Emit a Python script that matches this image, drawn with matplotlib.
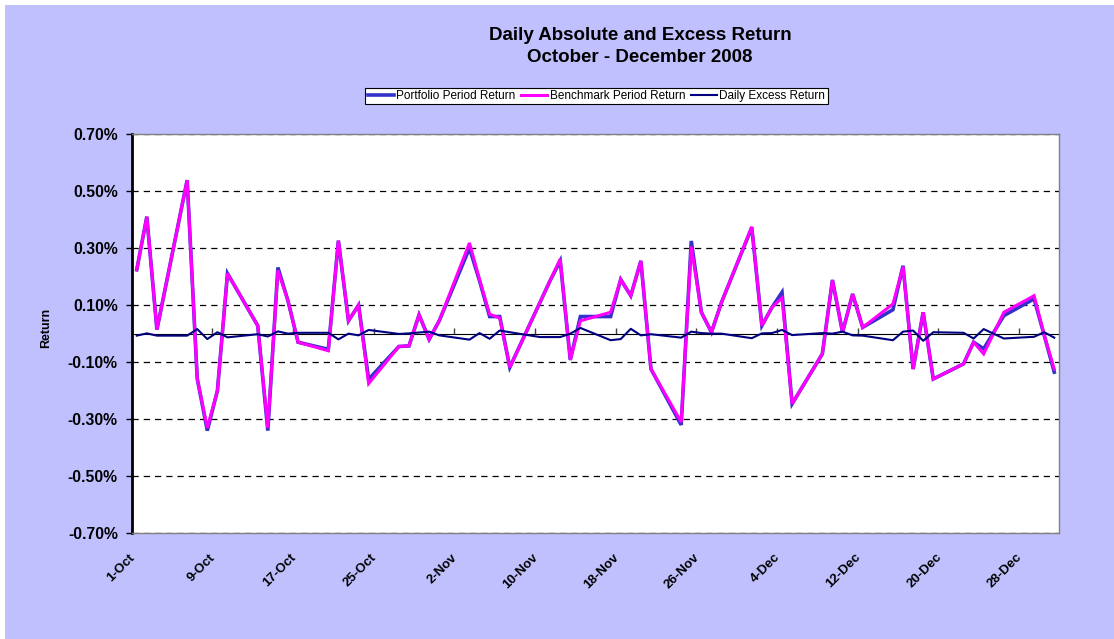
import numpy as np
import matplotlib
matplotlib.use("Agg")
import matplotlib.pyplot as plt
import matplotlib.transforms as mtransforms
from matplotlib.patches import Rectangle

# ---------------- data ----------------
dates = [
    "2008-10-01", "2008-10-02", "2008-10-03", "2008-10-06", "2008-10-07", "2008-10-08",
    "2008-10-09", "2008-10-10", "2008-10-13", "2008-10-14", "2008-10-15", "2008-10-16",
    "2008-10-17", "2008-10-20", "2008-10-21", "2008-10-22", "2008-10-23", "2008-10-24",
    "2008-10-27", "2008-10-28", "2008-10-29", "2008-10-30", "2008-10-31",
    "2008-11-03", "2008-11-04", "2008-11-05", "2008-11-06", "2008-11-07",
    "2008-11-10", "2008-11-11", "2008-11-12", "2008-11-13", "2008-11-14",
    "2008-11-17", "2008-11-18", "2008-11-19", "2008-11-20", "2008-11-21",
    "2008-11-24", "2008-11-25", "2008-11-26", "2008-11-27", "2008-11-28",
    "2008-12-01", "2008-12-02", "2008-12-03", "2008-12-04", "2008-12-05",
    "2008-12-08", "2008-12-09", "2008-12-10", "2008-12-11", "2008-12-12",
    "2008-12-15", "2008-12-16", "2008-12-17", "2008-12-18", "2008-12-19",
    "2008-12-22", "2008-12-23", "2008-12-24", "2008-12-26",
    "2008-12-29", "2008-12-30", "2008-12-31",
]

# returns in percent
portfolio = [
    0.224, 0.410, 0.014, 0.538, -0.158, -0.340,
    -0.200, 0.211, 0.028, -0.340, 0.232, 0.115,
    -0.030, -0.055, 0.326, 0.045, 0.100, -0.160,
    -0.045, -0.043, 0.066, -0.020, 0.045,
    0.300, 0.185, 0.060, 0.060, -0.118,
    0.110, 0.186, 0.255, -0.092, 0.060,
    0.060, 0.190, 0.133, 0.255, -0.124,
    -0.320, 0.325, 0.075, 0.005, 0.110,
    0.372, 0.028, 0.092, 0.145, -0.246,
    -0.071, 0.188, 0.005, 0.139, 0.022,
    0.084, 0.238, -0.124, 0.075, -0.159,
    -0.106, -0.030, -0.053, 0.063,
    0.122, -0.005, -0.135,
]

benchmark = [
    0.224, 0.410, 0.014, 0.538, -0.158, -0.330,
    -0.200, 0.211, 0.028, -0.330, 0.222, 0.115,
    -0.030, -0.060, 0.326, 0.045, 0.100, -0.175,
    -0.045, -0.043, 0.066, -0.020, 0.045,
    0.318, 0.190, 0.068, 0.055, -0.118,
    0.110, 0.186, 0.262, -0.092, 0.045,
    0.075, 0.190, 0.133, 0.255, -0.124,
    -0.310, 0.305, 0.075, 0.005, 0.110,
    0.375, 0.028, 0.092, 0.125, -0.246,
    -0.071, 0.188, 0.005, 0.139, 0.022,
    0.104, 0.235, -0.124, 0.075, -0.159,
    -0.106, -0.030, -0.071, 0.075,
    0.133, -0.005, -0.124,
]

excess = [
    -0.007, 0.001, -0.007, -0.007, 0.016, -0.019,
    0.005, -0.013, -0.002, -0.010, 0.008, 0.000,
    0.003, 0.003, -0.020, 0.000, -0.006, 0.013,
    -0.001, 0.001, 0.004, 0.007, -0.006,
    -0.021, 0.002, -0.018, 0.011, 0.005,
    -0.012, -0.012, -0.012, 0.000, 0.020,
    -0.023, -0.019, 0.017, -0.006, -0.002,
    -0.014, 0.007, 0.002, 0.000, 0.000,
    -0.016, 0.001, 0.002, 0.013, -0.005,
    0.002, 0.000, 0.007, -0.006, -0.007,
    -0.023, 0.007, 0.011, -0.025, 0.005,
    0.003, -0.017, 0.016, -0.017,
    -0.011, 0.005, -0.014,
]

tick_dates = ["2008-10-01", "2008-10-09", "2008-10-17", "2008-10-25", "2008-11-02",
              "2008-11-10", "2008-11-18", "2008-11-26", "2008-12-04", "2008-12-12",
              "2008-12-20", "2008-12-28"]
tick_labels = ["1-Oct", "9-Oct", "17-Oct", "25-Oct", "2-Nov", "10-Nov", "18-Nov",
               "26-Nov", "4-Dec", "12-Dec", "20-Dec", "28-Dec"]
y_ticks = [0.70, 0.50, 0.30, 0.10, -0.10, -0.30, -0.50, -0.70]

series_names = ["Portfolio Period Return", "Benchmark Period Return", "Daily Excess Return"]
title_lines = ["Daily Absolute and Excess Return", "October - December 2008"]

# ---------------- plot ----------------
plt.rcParams['font.family'] = ['Liberation Sans', 'DejaVu Sans']

W, H = 1114, 639
fig = plt.figure(figsize=(W / 100, H / 100), dpi=100, facecolor="white")
bg = "#C0C0FF"
fig.patches.append(Rectangle((5 / W, 0), 1, (H - 5) / H, transform=fig.transFigure,
                             facecolor=bg, edgecolor="none", zorder=-10))

left, right, top, bottom = 131.7, 1059.3, 134.0, 533.3
ax = fig.add_axes([left / W, 1 - bottom / H, (right - left) / W, (bottom - top) / H])
ax.set_facecolor("white")

x = np.array(dates, dtype="datetime64[D]") + np.timedelta64(12, "h")
x = x.astype("datetime64[s]").astype(object)

l1, = ax.plot(x, portfolio, color="#3333CC", lw=2.6, solid_joinstyle="miter", zorder=3)
l2, = ax.plot(x, benchmark, color="#FF00FF", lw=2.2, solid_joinstyle="miter", zorder=4)
l3, = ax.plot(x, excess, color="#000080", lw=1.5, zorder=5)

ax.set_xlim(np.datetime64("2008-10-01").astype(object), np.datetime64("2009-01-01").astype(object))
ax.set_ylim(-0.70, 0.70)

# y axis
ax.set_yticks(y_ticks)
ax.set_yticklabels([f"{v:.2f}%" for v in y_ticks], fontsize=11.3, fontweight="bold")
ax.tick_params(axis="y", direction="out", length=4, width=1, color="black", pad=6)
ax.yaxis.grid(True, color="black", linestyle=(0, (5, 4)), linewidth=0.9)
ax.set_axisbelow(True)

# x axis labels at bottom
tdates = [np.datetime64(d).astype(object) for d in tick_dates]
ax.set_xticks(tdates)
ax.set_xticklabels(tick_labels, rotation=45, ha="right", va="top",
                   rotation_mode="anchor", fontsize=9.5, fontweight="bold")
ax.tick_params(axis="x", length=0, pad=13)
shift = mtransforms.ScaledTranslation(-3 / 100, 0, fig.dpi_scale_trans)
for lab in ax.get_xticklabels():
    lab.set_transform(lab.get_transform() + shift)

# zero line acting as category axis with small ticks
sec = ax.secondary_xaxis(0.5)
sec.set_xticks(tdates)
sec.set_xticklabels([""] * len(tdates))
sec.tick_params(axis="x", direction="out", length=4, width=1, color="#404040")
sec.spines["bottom"].set_color("#808080")
sec.spines["bottom"].set_linewidth(1.5)

for s in ["top", "bottom", "right"]:
    ax.spines[s].set_color("#808080")
    ax.spines[s].set_linewidth(1.0)
ax.spines["left"].set_color("black")
ax.spines["left"].set_linewidth(2.0)

ax.set_ylabel("Return", fontsize=9, fontweight="bold")
ax.yaxis.set_label_coords(-0.086, 0.514)

# title
fig.text(640 / W, 1 - 36 / H, title_lines[0], ha="center", va="center",
         fontsize=13.5, fontweight="bold")
fig.text(640 / W, 1 - 58 / H, title_lines[1], ha="center", va="center",
         fontsize=13.5, fontweight="bold")

leg = fig.legend([l1, l2, l3], series_names, loc="center",
                 bbox_to_anchor=(596.5 / W, 1 - 96 / H), ncol=3, fontsize=8.5,
                 frameon=True, fancybox=False, edgecolor="black", framealpha=1,
                 handlelength=2.2, handletextpad=0.2, columnspacing=0.5,
                 borderpad=0.2, borderaxespad=0)
leg.get_frame().set_linewidth(0.8)

fig.savefig("out.png", dpi=100, facecolor="white")
